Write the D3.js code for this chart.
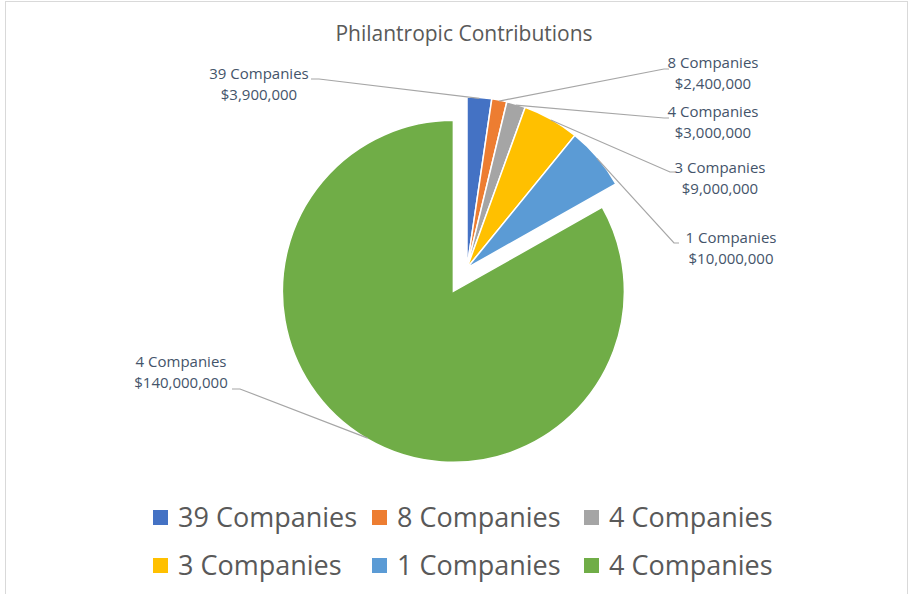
<!DOCTYPE html>
<html>
<head>
<script src="https://d3js.org/d3.v7.min.js"></script>
<style>
  body { margin: 0; background: #fff; }
  text { font-family: "Open Sans", sans-serif; }
</style>
</head>
<body>
<div class="chart"></div>
<script>
var categories = ["39 Companies", "8 Companies", "4 Companies", "3 Companies", "1 Companies", "4 Companies"];
var amounts = [3900000, 2400000, 3000000, 9000000, 10000000, 140000000];
var colors = ["#4472C4", "#ED7D31", "#A5A5A5", "#FFC000", "#5B9BD5", "#70AD47"];
var explode = [0, 0, 0, 0, 0, 27];
// label block centre (x, y of first line) and elbow point of leader line
var labelPos = [
  {x: 259, y: 79, ex: 319, ey: 79, side: "left"},
  {x: 713, y: 68, ex: 664, ey: 69, side: "right"},
  {x: 713, y: 117, ex: 664, ey: 118, side: "right"},
  {x: 720, y: 173, ex: 670, ey: 172, side: "right"},
  {x: 731, y: 243, ex: 674, ey: 243, side: "right"},
  {x: 181, y: 367, ex: 240, ey: 389, side: "left"}
];

var w = 909, h = 594, cx = 467, cy = 268, r = 171;
var fmt = d3.format("$,");

var svg = d3.select(".chart").append("svg")
  .attr("width", w).attr("height", h);

svg.append("rect")
  .attr("x", 5.5).attr("y", 1.5)
  .attr("width", 902).attr("height", 620)
  .attr("fill", "#fff").attr("stroke", "#d9d9d9");

svg.append("text")
  .attr("x", 464).attr("y", 41)
  .attr("text-anchor", "middle")
  .attr("font-size", 21)
  .attr("fill", "#595959")
  .text("Philantropic Contributions");

var pie = d3.pie().sort(null).value(function(d) { return d; });
var arcs = pie(amounts);
var arc = d3.arc().innerRadius(0).outerRadius(r);

function offset(d, i, rad) {
  var a = (d.startAngle + d.endAngle) / 2;
  return [cx + Math.sin(a) * (explode[i] + rad), cy - Math.cos(a) * (explode[i] + rad)];
}

svg.append("g").selectAll("path")
  .data(arcs)
  .enter().append("path")
  .attr("d", arc)
  .attr("transform", function(d, i) {
    var o = offset(d, i, 0);
    return "translate(" + o[0] + "," + o[1] + ")";
  })
  .attr("fill", function(d, i) { return colors[i]; })
  .attr("stroke", "#fff")
  .attr("stroke-width", 1.5);

// leader lines
svg.append("g").selectAll("polyline")
  .data(arcs)
  .enter().append("polyline")
  .attr("points", function(d, i) {
    var p = offset(d, i, r - 1), L = labelPos[i];
    var end = L.side == "left" ? L.ex - 8 : L.ex + 5;
    return [p, [L.ex, L.ey], [end, L.ey]].map(function(q) { return q.join(","); }).join(" ");
  })
  .attr("fill", "none")
  .attr("stroke", "#a6a6a6")
  .attr("stroke-width", 1.2);

var labels = svg.append("g").selectAll("text")
  .data(arcs)
  .enter().append("text")
  .attr("text-anchor", "middle")
  .attr("font-size", 15)
  .attr("fill", "#44546A");
labels.append("tspan")
  .attr("x", function(d, i) { return labelPos[i].x; })
  .attr("y", function(d, i) { return labelPos[i].y; })
  .text(function(d, i) { return categories[i]; });
labels.append("tspan")
  .attr("x", function(d, i) { return labelPos[i].x; })
  .attr("dy", 21)
  .text(function(d, i) { return fmt(amounts[i]); });

// legend
var legX = [153, 372, 584], legY = [517, 565];
var leg = svg.append("g").selectAll("g")
  .data(categories)
  .enter().append("g")
  .attr("transform", function(d, i) {
    return "translate(" + legX[i % 3] + "," + legY[Math.floor(i / 3)] + ")";
  });
leg.append("rect")
  .attr("x", 0).attr("y", -7)
  .attr("width", 15).attr("height", 15)
  .attr("fill", function(d, i) { return colors[i]; });
leg.append("text")
  .attr("x", 25).attr("y", 10)
  .attr("font-size", 27)
  .attr("fill", "#595959")
  .text(function(d) { return d; });
</script>
</body>
</html>
